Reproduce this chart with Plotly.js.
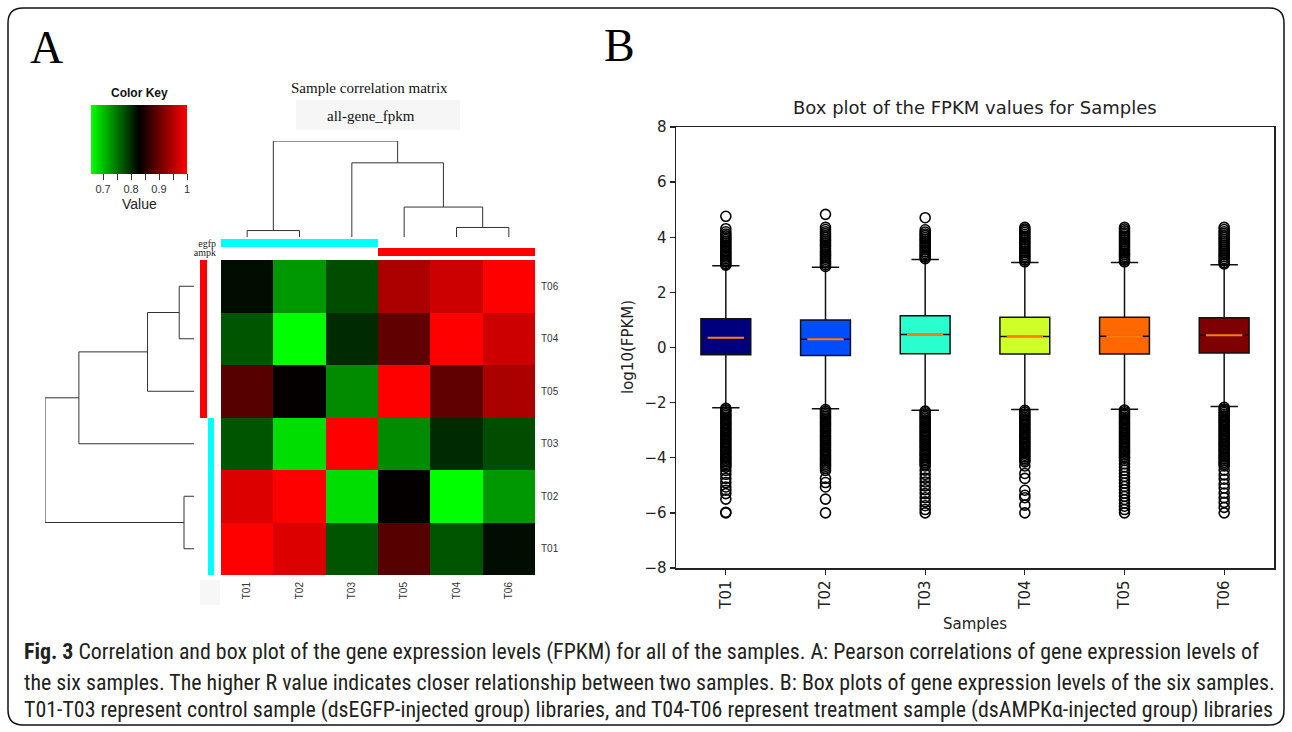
<!DOCTYPE html>
<html><head><meta charset="utf-8">
<script src="https://cdn.plot.ly/plotly-3.0.1.min.js"></script>
<style>html,body{margin:0;padding:0;background:#fff}#chart{width:1292px;height:732px}</style>
</head><body><div id="chart"></div>
<script>
// ---------- DATA ----------
const samples = ['T01','T02','T03','T04','T05','T06'];
// Pearson correlation matrix (sample order above)
const corrT01 = [1.000, 0.977, 0.771, 0.771, 0.887, 0.820];
const corrT02 = [0.977, 1.000, 0.680, 0.657, 0.831, 0.726];
const corrT03 = [0.771, 0.680, 1.000, 0.800, 0.735, 0.777];
const corrT04 = [0.771, 0.657, 0.800, 1.000, 0.893, 0.966];
const corrT05 = [0.887, 0.831, 0.735, 0.893, 1.000, 0.943];
const corrT06 = [0.820, 0.726, 0.777, 0.966, 0.943, 1.000];
const leafOrder = ['T01','T02','T03','T05','T04','T06'];
const groupOf = {T01:'egfp', T02:'egfp', T03:'egfp', T04:'ampk', T05:'ampk', T06:'ampk'};
const groupNames = ['ampk','egfp'];
const keyTicks = [0.7, 0.75, 0.8, 0.85, 0.9, 0.95, 1.0];
const keyTickText = ['0.7','','0.8','','0.9','','1'];

// Box plot statistics of log10(FPKM)
const boxQ1 = [-0.26, -0.29, -0.23, -0.24, -0.24, -0.20];
const boxMedian = [0.35, 0.30, 0.47, 0.40, 0.41, 0.44];
const boxQ3 = [1.04, 1.00, 1.15, 1.10, 1.10, 1.08];
const boxLowerWhisker = [-2.19, -2.22, -2.28, -2.25, -2.24, -2.14];
const boxUpperWhisker = [2.97, 2.91, 3.19, 3.08, 3.08, 3.00];
const outT01 = [4.76, 4.31, 4.2, 4.12, 4.05, 3.98, 3.92, 3.85, 3.79, 3.72, 3.66, 3.6, 3.53, 3.47, 3.41, 3.35, 3.28, 3.22, 3.16, 3.1, 3.04, 2.99,
  -2.21, -2.27, -2.33, -2.4, -2.46, -2.52, -2.58, -2.65, -2.71, -2.77, -2.83, -2.9, -2.96, -3.02, -3.08, -3.15, -3.21, -3.27, -3.33, -3.4, -3.46, -3.52, -3.58, -3.65, -3.71, -3.77, -3.83, -3.9, -3.96, -4.02, -4.08, -4.15, -4.21, -4.28, -4.34, -4.46, -4.6, -4.75, -4.9, -5.06, -5.18, -5.3, -5.5, -5.98, -6.0];
const outT02 = [4.83, 4.36, 4.28, 4.2, 4.13, 4.06, 3.99, 3.92, 3.86, 3.79, 3.72, 3.66, 3.59, 3.52, 3.46, 3.39, 3.33, 3.26, 3.2, 3.13, 3.07, 3.0, 2.94,
  -2.25, -2.31, -2.37, -2.44, -2.5, -2.56, -2.62, -2.69, -2.75, -2.81, -2.87, -2.94, -3.0, -3.06, -3.12, -3.19, -3.25, -3.31, -3.37, -3.44, -3.5, -3.56, -3.62, -3.69, -3.75, -3.81, -3.87, -3.94, -4.0, -4.06, -4.12, -4.19, -4.25, -4.31, -4.38, -4.46, -4.75, -4.9, -5.06, -5.5, -6.0];
const outT03 = [4.71, 4.27, 4.19, 4.12, 4.06, 3.99, 3.93, 3.86, 3.8, 3.73, 3.67, 3.6, 3.54, 3.47, 3.41, 3.34, 3.28, 3.22,
  -2.31, -2.37, -2.43, -2.5, -2.56, -2.62, -2.68, -2.75, -2.81, -2.87, -2.93, -3.0, -3.06, -3.12, -3.18, -3.25, -3.31, -3.37, -3.43, -3.5, -3.56, -3.62, -3.68, -3.75, -3.81, -3.87, -3.93, -4.0, -4.06, -4.12, -4.18, -4.24, -4.3, -4.45, -4.6, -4.74, -4.88, -5.02, -5.16, -5.3, -5.45, -5.6, -5.74, -5.88, -6.0];
const outT04 = [4.36, 4.3, 4.24, 4.17, 4.1, 4.03, 3.97, 3.9, 3.83, 3.77, 3.7, 3.63, 3.57, 3.5, 3.44, 3.37, 3.3, 3.24, 3.17, 3.11,
  -2.28, -2.34, -2.41, -2.47, -2.53, -2.59, -2.66, -2.72, -2.78, -2.84, -2.91, -2.97, -3.03, -3.09, -3.16, -3.22, -3.28, -3.34, -3.41, -3.47, -3.53, -3.59, -3.66, -3.72, -3.78, -3.84, -3.91, -3.97, -4.03, -4.09, -4.15, -4.3, -4.57, -4.75, -5.18, -5.36, -5.45, -5.72, -6.0];
const outT05 = [4.36, 4.3, 4.23, 4.16, 4.1, 4.03, 3.96, 3.9, 3.83, 3.76, 3.7, 3.63, 3.56, 3.5, 3.43, 3.37, 3.3, 3.23, 3.17, 3.11,
  -2.27, -2.33, -2.4, -2.46, -2.52, -2.58, -2.65, -2.71, -2.77, -2.83, -2.9, -2.96, -3.02, -3.08, -3.15, -3.21, -3.27, -3.33, -3.4, -3.46, -3.52, -3.58, -3.65, -3.71, -3.77, -3.83, -3.9, -3.96, -4.02, -4.1, -4.22, -4.33, -4.45, -4.56, -4.68, -4.8, -4.92, -5.04, -5.16, -5.28, -5.4, -5.52, -5.64, -5.76, -5.88, -6.0];
const outT06 = [4.36, 4.28, 4.2, 4.13, 4.06, 3.99, 3.92, 3.85, 3.78, 3.71, 3.64, 3.57, 3.5, 3.43, 3.36, 3.29, 3.22, 3.15, 3.08, 3.03,
  -2.17, -2.23, -2.29, -2.36, -2.42, -2.48, -2.54, -2.61, -2.67, -2.73, -2.79, -2.86, -2.92, -2.98, -3.04, -3.11, -3.17, -3.23, -3.29, -3.36, -3.42, -3.48, -3.54, -3.61, -3.67, -3.73, -3.79, -3.86, -3.92, -3.98, -4.04, -4.11, -4.17, -4.23, -4.3, -4.45, -4.62, -4.78, -4.95, -5.1, -5.28, -5.45, -5.62, -5.8, -6.0];

// ---------- STYLE ----------
const W = 1292, H = 732;
const X = x => x / W, Y = y => 1 - y / H;
const boxColors = ['#00007f','#004cff','#29ffce','#ceff29','#ff6800','#7f0000'];
const groupColorscale = [[0,'#00ffff'],[1,'#ff0000']];
const keyMin = 0.657, keyMax = 1.0;
const serif = 'Liberation Serif, Times New Roman, serif';
const sans = 'Liberation Sans, Arial, sans-serif';
const dv = 'DejaVu Sans, sans-serif';

const corr = [corrT01, corrT02, corrT03, corrT04, corrT05, corrT06];
const idx = s => samples.indexOf(s);

// heatmap matrix in display order (rows bottom->top = leafOrder)
const zMat = leafOrder.map(r => leafOrder.map(c => corr[idx(r)][idx(c)]));

// complete-linkage clustering on 1 - r
function hclust() {
  let cl = samples.map(s => ({leaf: s, members: [idx(s)], height: 0}));
  while (cl.length > 1) {
    let best = null;
    for (let i = 0; i < cl.length; i++) for (let j = i + 1; j < cl.length; j++) {
      let d = 0;
      cl[i].members.forEach(a => cl[j].members.forEach(b => { d = Math.max(d, 1 - corr[a][b]); }));
      if (!best || d < best.d) best = {i, j, d};
    }
    const a = cl[best.i], b = cl[best.j];
    const m = {left: a, right: b, members: a.members.concat(b.members), height: best.d};
    cl = cl.filter((_, k) => k !== best.i && k !== best.j);
    cl.push(m);
  }
  return cl[0];
}
const tree = hclust();
function segs(node, pos, out) {
  if (node.leaf) return {c: pos[node.leaf], h: 0};
  const L = segs(node.left, pos, out), R = segs(node.right, pos, out);
  out.push([L.c, L.h], [L.c, node.height], [R.c, node.height], [R.c, R.h], null);
  return {c: (L.c + R.c) / 2, h: node.height};
}
const pos = {}; leafOrder.forEach((s, i) => pos[s] = i);
const segList = []; segs(tree, pos, segList);
const posA = segList.map(p => p ? p[0] : null), hA = segList.map(p => p ? p[1] : null);
const groupCode = g => (g === 'ampk' ? 1 : 0);

const traces = [];
traces.push({
  type: 'heatmap', x: leafOrder, y: leafOrder, z: zMat, zmin: keyMin, zmax: keyMax,
  colorscale: [[0,'#00ff00'],[0.5,'#000000'],[1,'#ff0000']], xaxis: 'x', yaxis: 'y', hoverinfo: 'skip',
  colorbar: {orientation: 'h', x: X(139), xanchor: 'center', y: Y(105), yanchor: 'top',
    len: 96, lenmode: 'pixels', thickness: 69, thicknessmode: 'pixels', xpad: 0, ypad: 0,
    outlinewidth: 0, tickvals: keyTicks, ticktext: keyTickText, ticks: 'outside', ticklen: 6,
    tickcolor: '#333', tickfont: {family: sans, size: 11, color: '#333'}}
});
// top dendrogram
traces.push({type: 'scatter', mode: 'lines', x: posA, y: hA, xaxis: 'x2', yaxis: 'y2',
  line: {color: '#333', width: 1}, cliponaxis: false, hoverinfo: 'skip', showlegend: false});
// left dendrogram
traces.push({type: 'scatter', mode: 'lines', x: hA, y: posA, xaxis: 'x3', yaxis: 'y3',
  line: {color: '#333', width: 1}, cliponaxis: false, hoverinfo: 'skip', showlegend: false});
// top side colors
traces.push({type: 'heatmap', x: leafOrder, y: groupNames, xaxis: 'x4', yaxis: 'y4',
  z: groupNames.map(g => leafOrder.map(c => groupOf[c] === g ? groupCode(g) : null)),
  zmin: 0, zmax: 1, colorscale: groupColorscale, showscale: false, ygap: 1, hoverinfo: 'skip'});
// left side colors
traces.push({type: 'heatmap', x: groupNames, y: leafOrder, xaxis: 'x5', yaxis: 'y5',
  z: leafOrder.map(r => groupNames.map(g => groupOf[r] === g ? groupCode(g) : null)),
  zmin: 0, zmax: 1, colorscale: groupColorscale, showscale: false, xgap: 1, hoverinfo: 'skip'});

// box plot
const outs = [outT01, outT02, outT03, outT04, outT05, outT06];
samples.forEach((s, i) => {
  traces.push({type: 'box', x: [s], q1: [boxQ1[i]], median: [boxMedian[i]], q3: [boxQ3[i]],
    lowerfence: [boxLowerWhisker[i]], upperfence: [boxUpperWhisker[i]], boxpoints: false,
    width: 0.5, whiskerwidth: 0.55, fillcolor: boxColors[i], line: {color: '#111', width: 1.5},
    xaxis: 'x6', yaxis: 'y6', showlegend: false, hoverinfo: 'skip'});
  traces.push({type: 'scatter', mode: 'markers', x: outs[i].map(() => s), y: outs[i], xaxis: 'x6', yaxis: 'y6',
    marker: {symbol: 'circle-open', size: 10, color: '#000', line: {width: 1.6}}, showlegend: false, hoverinfo: 'skip'});
});
traces.push({type: 'scatter', mode: 'markers', x: samples, y: boxMedian, xaxis: 'x6', yaxis: 'y6',
  marker: {symbol: 'line-ew', size: 26, color: '#ff7f0e', line: {color: '#ff7f0e', width: 2}}, showlegend: false, hoverinfo: 'skip'});

const hid = (dom, extra) => Object.assign({domain: dom, showgrid: false, zeroline: false, showline: false,
  showticklabels: false, ticks: '', fixedrange: true}, extra || {});
const hmX = [X(221), X(535)], hmY = [Y(575), Y(260)];
const maxH = tree.height;

const layout = {
  width: W, height: H, margin: {l: 0, r: 0, t: 0, b: 0}, paper_bgcolor: '#fff', plot_bgcolor: 'rgba(0,0,0,0)',
  showlegend: false, boxmode: 'overlay', font: {family: dv, color: '#222'},
  xaxis: hid(hmX, {type: 'category', categoryarray: leafOrder, range: [-0.5, 5.5], showticklabels: true,
    tickangle: -90, tickfont: {family: sans, size: 10, color: '#333'}, ticklabelstandoff: 4, anchor: 'y'}),
  yaxis: hid(hmY, {type: 'category', categoryarray: leafOrder, range: [-0.5, 5.5], showticklabels: true,
    side: 'right', tickfont: {family: sans, size: 10, color: '#333'}, ticklabelstandoff: 5, anchor: 'x'}),
  xaxis2: hid(hmX, {range: [-0.5, 5.5], anchor: 'y2'}),
  yaxis2: hid([Y(237), Y(141)], {range: [0, maxH], anchor: 'x2'}),
  xaxis3: hid([X(45), X(194)], {range: [maxH, 0], anchor: 'y3'}),
  yaxis3: hid(hmY, {range: [-0.5, 5.5], anchor: 'x3'}),
  xaxis4: hid(hmX, {type: 'category', categoryarray: leafOrder, range: [-0.5, 5.5], anchor: 'y4'}),
  yaxis4: hid([Y(257), Y(239)], {type: 'category', categoryarray: groupNames, range: [-0.5, 1.5], showticklabels: true,
    tickmode: 'array', tickvals: groupNames, ticktext: groupNames,
    tickfont: {family: serif, size: 10, color: '#222'}, ticklabelstandoff: 4, anchor: 'x4'}),
  xaxis5: hid([X(200), X(215)], {type: 'category', categoryarray: groupNames, anchor: 'y5'}),
  yaxis5: hid(hmY, {type: 'category', categoryarray: leafOrder, range: [-0.5, 5.5], anchor: 'x5'}),
  xaxis6: {domain: [X(676), X(1274)], anchor: 'y6', type: 'category', categoryarray: samples, range: [-0.5, 5.5],
    showline: true, mirror: true, linecolor: '#222', linewidth: 1.5, ticks: 'outside', ticklen: 5, tickwidth: 1.3,
    tickcolor: '#222', tickangle: -90, tickfont: {family: dv, size: 15, color: '#222'}, showgrid: false, zeroline: false},
  yaxis6: {domain: [Y(568), Y(127)], anchor: 'x6', range: [-8, 8], tick0: -8, dtick: 2,
    showline: true, mirror: true, linecolor: '#222', linewidth: 1.5, ticks: 'outside', ticklen: 5, tickwidth: 1.3,
    tickcolor: '#222', tickfont: {family: dv, size: 15, color: '#222'}, showgrid: false, zeroline: false},
  shapes: [],
  annotations: []
};

// rounded frame
const r = 15, L0 = 8, T0 = 8, R0 = 1284, B0 = 725;
const p = (x, y) => X(x) + ',' + Y(y);
layout.shapes.push({type: 'path', xref: 'paper', yref: 'paper', line: {color: '#111', width: 1.5},
  path: 'M' + p(L0 + r, T0) + ' L' + p(R0 - r, T0) + ' Q' + p(R0, T0) + ' ' + p(R0, T0 + r) +
    ' L' + p(R0, B0 - r) + ' Q' + p(R0, B0) + ' ' + p(R0 - r, B0) + ' L' + p(L0 + r, B0) +
    ' Q' + p(L0, B0) + ' ' + p(L0, B0 - r) + ' L' + p(L0, T0 + r) + ' Q' + p(L0, T0) + ' ' + p(L0 + r, T0) + ' Z'});
layout.shapes.push({type: 'rect', xref: 'paper', yref: 'paper', x0: X(296), x1: X(460), y0: Y(130), y1: Y(100),
  fillcolor: '#f6f6f6', line: {width: 0}, layer: 'below'});
layout.shapes.push({type: 'rect', xref: 'paper', yref: 'paper', x0: X(200), x1: X(220), y0: Y(605), y1: Y(580),
  fillcolor: '#f7f7f7', line: {width: 0}, layer: 'below'});

const ann = (text, x, y, font, extra) => layout.annotations.push(Object.assign({text, x: X(x), y: Y(y),
  xref: 'paper', yref: 'paper', xanchor: 'center', yanchor: 'middle', showarrow: false, font}, extra || {}));
ann('A', 47, 47, {family: serif, size: 46, color: '#000'});
ann('B', 619, 46, {family: serif, size: 46, color: '#000'});
ann('Sample correlation matrix', 370, 88, {family: serif, size: 15, color: '#111'});
ann('all-gene_fpkm', 371, 116, {family: serif, size: 15, color: '#111'});
ann('<b>Color Key</b>', 139, 93, {family: sans, size: 12, color: '#111'});
ann('Value', 139, 204, {family: sans, size: 14, color: '#222'});
ann('Box plot of the FPKM values for Samples', 975, 108, {family: dv, size: 18, color: '#222'});
ann('log10(FPKM)', 628, 347, {family: dv, size: 15, color: '#222'}, {textangle: -90});
ann('Samples', 975, 624, {family: dv, size: 15, color: '#222'});
const capFont = {family: 'Liberation Sans Narrow, Roboto Condensed, Open Sans, sans-serif', size: 21.9, color: '#231f20'};
ann('<b>Fig. 3</b> Correlation and box plot of the gene expression levels (FPKM) for all of the samples. A: Pearson correlations of gene expression levels of', 22, 652, capFont, {xanchor: 'left'});
ann('the six samples. The higher R value indicates closer relationship between two samples. B: Box plots of gene expression levels of the six samples.', 22, 682, capFont, {xanchor: 'left'});
ann('T01-T03 represent control sample (dsEGFP-injected group) libraries, and T04-T06 represent treatment sample (dsAMPKα-injected group) libraries', 22, 710, capFont, {xanchor: 'left'});

Plotly.newPlot('chart', traces, layout, {staticPlot: true, displayModeBar: false});
</script></body></html>
